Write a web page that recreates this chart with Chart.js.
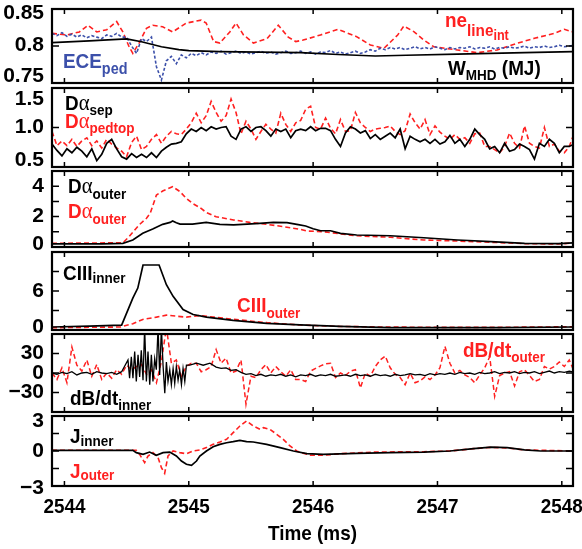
<!DOCTYPE html>
<html>
<head>
<meta charset="utf-8">
<script src="https://cdn.jsdelivr.net/npm/chart.js@4.4.0/dist/chart.umd.min.js"></script>
<style>
    html, body { margin: 0; padding: 0; background: #fff; }
    #wrap { position: relative; width: 582px; height: 549px; overflow: hidden; }
    #wrap canvas { position: absolute; left: 0; }
</style>
</head>
<body>
<div id="wrap"></div>
<script>
// ---- time axis ----
const xTicks = [2544, 2545, 2546, 2547, 2548];
const xTickLabels = ['2544', '2545', '2546', '2547', '2548'];
// shared sample times for the noisy traces (every 0.04 ms)
const tGrid = Array.from({ length: 106 }, (_, i) => 2543.9 + i * 0.04);

// ---- panel 1: W_MHD, ECE_ped, ne_line_int ----
const wmhdTimes = [2543.9, 2544.2, 2544.5, 2544.62, 2544.78, 2544.92, 2545.0, 2545.25, 2545.9, 2546.2, 2546.5, 2546.75, 2547.16, 2547.7, 2548.1];
const wmhdVals = [0.8045, 0.807, 0.8095, 0.8058, 0.799, 0.795, 0.7937, 0.7923, 0.791, 0.7885, 0.7865, 0.7875, 0.789, 0.791, 0.7923];
const eceVals = [
    0.817, 0.814, 0.818, 0.813, 0.816, 0.812, 0.815, 0.811, 0.814, 0.812,
    0.810, 0.815, 0.813, 0.817, 0.812, 0.812, 0.800, 0.790, 0.810, 0.806,
    0.812, 0.772, 0.754, 0.780, 0.786, 0.776, 0.788, 0.784, 0.790, 0.787,
    0.791, 0.788, 0.792, 0.790, 0.793, 0.789, 0.791, 0.793, 0.790, 0.792,
    0.789, 0.791, 0.793, 0.790, 0.792, 0.789, 0.791, 0.793, 0.790, 0.791,
    0.793, 0.790, 0.792, 0.789, 0.792, 0.791, 0.794, 0.790, 0.792, 0.789,
    0.791, 0.793, 0.790, 0.792, 0.795, 0.793, 0.797, 0.795, 0.798, 0.796,
    0.798, 0.795, 0.797, 0.799, 0.796, 0.798, 0.796, 0.799, 0.797, 0.795,
    0.798, 0.796, 0.798, 0.797, 0.799, 0.796, 0.798, 0.797, 0.799, 0.796,
    0.798, 0.797, 0.799, 0.797, 0.798, 0.800, 0.797, 0.799, 0.798, 0.800,
    0.798, 0.799, 0.801, 0.799, 0.800, 0.801
];
const neTimes = [2543.9, 2544.02, 2544.12, 2544.19, 2544.26, 2544.34, 2544.42, 2544.47, 2544.52, 2544.55,
    2544.6, 2544.66, 2544.71, 2544.79, 2544.87, 2544.98, 2545.1, 2545.14, 2545.2, 2545.25,
    2545.33, 2545.38, 2545.44, 2545.52, 2545.63, 2545.72, 2545.8, 2545.86, 2545.92, 2546.06,
    2546.2, 2546.35, 2546.46, 2546.57, 2546.68, 2546.73, 2546.81, 2546.89, 2546.97, 2547.16,
    2547.32, 2547.48, 2547.64, 2547.78, 2547.94, 2548.02, 2548.1];
const neVals = [0.817, 0.815, 0.819, 0.828, 0.819, 0.822, 0.833, 0.819, 0.799, 0.790,
    0.804, 0.824, 0.828, 0.826, 0.819, 0.831, 0.835, 0.831, 0.806, 0.804,
    0.819, 0.831, 0.815, 0.804, 0.810, 0.828, 0.812, 0.806, 0.808, 0.815,
    0.8225, 0.8126, 0.8014, 0.7969, 0.8149, 0.827, 0.8194, 0.8081, 0.799, 0.7946,
    0.791, 0.7946, 0.8036, 0.8104, 0.8171, 0.8225, 0.8185];

// ---- panel 2: D-alpha sep / pedtop ----
const daSepVals = [
    0.79, 0.71, 0.64, 0.73, 0.68, 0.75, 0.70, 0.63, 0.73, 0.58,
    0.66, 0.80, 0.85, 0.73, 0.63, 0.60, 0.67, 0.62, 0.66, 0.62,
    0.68, 0.62, 0.70, 0.75, 0.79, 0.80, 0.82, 0.92, 0.98, 0.95,
    1.00, 0.96, 1.01, 0.98, 1.00, 1.01, 0.89, 0.85, 0.98, 1.01,
    0.95, 1.00, 1.01, 0.96, 0.89, 0.98, 0.95, 0.98, 0.87, 0.96,
    0.98, 0.96, 1.01, 0.96, 0.99, 0.99, 0.96, 0.85, 0.76, 0.93,
    1.01, 0.98, 0.93, 0.96, 0.86, 0.91, 0.85, 0.89, 0.93, 0.87,
    0.98, 0.73, 0.89, 0.85, 0.82, 0.85, 0.80, 0.85, 0.79, 0.82,
    0.90, 0.80, 0.85, 0.76, 0.85, 0.98, 0.91, 0.85, 0.73, 0.76,
    0.68, 0.80, 0.70, 0.72, 0.79, 0.76, 0.72, 0.60, 0.80, 0.76,
    0.85, 0.80, 0.68, 0.76, 0.76, 0.79
];
const daPedVals = [
    0.95, 0.77, 0.83, 0.77, 0.85, 0.76, 0.83, 0.87, 0.77, 0.83,
    0.74, 0.85, 0.79, 0.74, 0.70, 0.63, 0.81, 0.89, 0.72, 0.76,
    0.85, 0.91, 0.80, 0.89, 0.95, 0.92, 0.91, 0.98, 1.06, 1.18,
    1.06, 1.15, 1.33, 1.19, 1.08, 1.15, 1.36, 1.19, 0.92, 1.08,
    0.98, 0.85, 0.95, 1.04, 0.98, 0.93, 1.18, 1.04, 0.95, 1.06,
    1.09, 1.23, 1.27, 1.00, 0.98, 1.12, 0.99, 0.92, 1.10, 0.95,
    0.96, 1.19, 1.06, 1.00, 0.95, 0.98, 0.99, 1.00, 1.02, 0.95,
    0.91, 0.96, 1.17, 1.06, 0.98, 1.10, 0.91, 1.02, 0.94, 0.89,
    0.85, 0.91, 0.85, 0.87, 0.80, 0.92, 0.93, 0.76, 0.76, 0.72,
    0.68, 0.76, 0.93, 0.80, 0.74, 1.02, 0.80, 0.76, 0.74, 1.00,
    0.76, 0.79, 0.70, 0.68, 0.76, 0.93
];

// ---- panel 3: D-alpha outer ----
const daOutTimes = [2543.9, 2544.1, 2544.3, 2544.47, 2544.55, 2544.63, 2544.71, 2544.79, 2544.85, 2544.87,
    2544.9, 2544.93, 2545.03, 2545.14, 2545.25, 2545.36, 2545.47, 2545.57, 2545.68, 2545.79,
    2545.88, 2545.94, 2546.0, 2546.06, 2546.14, 2546.22, 2546.35, 2546.62, 2546.89, 2547.16,
    2547.43, 2547.7, 2547.97, 2548.1];
const daOutBlack = [0.2, 0.2, 0.21, 0.24, 0.46, 0.9, 1.18, 1.49, 1.62, 1.71,
    1.6, 1.51, 1.51, 1.62, 1.49, 1.45, 1.51, 1.56, 1.62, 1.6,
    1.47, 1.38, 1.2, 1.07, 1.07, 0.9, 0.79, 0.74, 0.61, 0.46,
    0.35, 0.24, 0.22, 0.28];
const daOutRedTimes = [2543.9, 2544.47, 2544.52, 2544.6, 2544.66, 2544.69, 2544.74, 2544.79, 2544.85, 2544.87,
    2544.93, 2544.98, 2545.03, 2545.09, 2545.14, 2545.22, 2545.36, 2545.49, 2545.63, 2545.76,
    2545.9, 2545.95, 2546.08, 2546.22, 2546.35, 2546.62, 2546.89, 2547.16, 2547.43, 2547.7,
    2547.97, 2548.1];
const daOutRed = [0.24, 0.28, 0.68, 1.45, 1.89, 2.22, 3.42, 3.68, 3.9, 3.97,
    3.64, 3.2, 2.87, 2.59, 2.28, 1.99, 1.78, 1.62, 1.49, 1.34,
    1.16, 1.05, 1.01, 0.86, 0.74, 0.64, 0.46, 0.39, 0.31, 0.22,
    0.2, 0.26];

// ---- panel 4: CIII inner / outer ----
const c3InTimes = [2543.9, 2544.2, 2544.46, 2544.55, 2544.59, 2544.632, 2544.761, 2544.82, 2544.874, 2544.954,
    2545.035, 2545.142, 2545.357, 2545.626, 2545.895, 2546.22, 2546.62, 2547.0, 2547.5, 2548.1];
const c3InVals = [0.46, 0.6, 0.76, 4.9, 6.45, 10.0, 10.0, 6.96, 5.18, 3.15,
    2.39, 1.98, 1.48, 1.02, 0.8, 0.55, 0.36, 0.36, 0.36, 0.46];
const c3OutTimes = [2543.9, 2544.45, 2544.55, 2544.63, 2544.74, 2544.82, 2544.9, 2544.98, 2545.09, 2545.2,
    2545.36, 2545.63, 2545.9, 2546.22, 2546.6, 2547.0, 2547.5, 2548.1];
const c3OutVals = [0.36, 0.46, 0.97, 1.63, 1.98, 2.28, 2.13, 1.98, 2.23, 1.98,
    1.64, 1.13, 0.76, 0.55, 0.45, 0.41, 0.41, 0.5];

// ---- panel 5: dB/dt inner / outer ----
const dbBurstTimes = [2544.511, 2544.524, 2544.538, 2544.551, 2544.565, 2544.578, 2544.592, 2544.605, 2544.618, 2544.632,
    2544.645, 2544.659, 2544.672, 2544.686, 2544.699, 2544.712, 2544.726, 2544.739, 2544.753, 2544.766,
    2544.780, 2544.793, 2544.807, 2544.820, 2544.833, 2544.847, 2544.860, 2544.874, 2544.887, 2544.900,
    2544.914, 2544.927, 2544.941, 2544.954, 2544.968, 2544.981, 2545.008, 2545.062, 2545.116, 2545.170];
const dbInnerPre = [0, -2, 1, -1, 2, -3, 0, 1, -2, 2, 0, -1, 1, -2, 2];
const dbInnerBurst = [20, -8, 25, -8, 33, -13, 28, -6, 35, -11,
    70, -13, 33, -18, 28, -13, 22, 5, 70, -3,
    70, 12, -31, 17, -13, 5, -18, 7, -16, 10,
    -11, 5, -18, 7, -13, 12, 12, 15, 12, 15];
const dbInnerTail = [
    9, 7, 8, 4, 5, 1, -2, -1, -4, -2,
    -5, -3, -4, -2, -5, -3, -6, -3, -4, -2,
    -5, -3, -4, -2, -5, -4, -3, -5, -2, -4,
    -3, -5, -2, -4, -3, -5, -2, -4, -3, -1,
    -3, -2, -4, -1, -3, -1, -2, 0, -2, 1,
    -1, 0, -2, 1, -1, 0, 2, -1, 1, 0,
    2, -1, 1, 0, 2, -1, 1, 3, 0, 2,
    1, 3, 1
];
const dbOuterVals = [
    0, -10, 8, -15, 40, 12, 3, 20, -5, 13,
    -10, 0, -8, 5, -2, 12, 5, 10, 13, -2,
    5, -15, 18, 70, 15, 20, -5, 10, 15, 15,
    2, 5, 10, 36, 15, 23, 0, 3, 20, -48,
    -5, -7, 5, 13, 0, 10, 2, -5, 5, -10,
    -10, -13, 3, 7, 11, 14, 15, -7, 0, -4,
    3, 5, -23, 0, -5, 10, 20, 26, 8, -2,
    -7, -18, 0, -15, -12, -6, -10, -3, 8, 41,
    15, 0, 4, -3, -7, -15, -3, 8, 25, -36,
    -4, 0, 2, -20, 2, 5, -4, -13, -10, 10,
    6, 10, 17, 10, 20, 2
];

// ---- panel 6: J inner / outer ----
const jInTimes = [2543.9, 2544.55, 2544.578, 2544.632, 2544.685, 2544.739, 2544.793, 2544.847, 2544.9, 2544.941,
    2544.981, 2545.022, 2545.062, 2545.089, 2545.142, 2545.196, 2545.25, 2545.304, 2545.357, 2545.411,
    2545.465, 2545.519, 2545.626, 2545.734, 2545.841, 2545.95, 2546.08, 2546.35, 2546.62, 2546.89,
    2547.1, 2547.29, 2547.43, 2547.56, 2547.7, 2547.83, 2548.1];
const jInVals = [0.06, 0.06, -0.14, -0.28, -0.09, -0.37, -0.14, -0.09, -0.43, -0.86,
    -1.14, -1.23, -0.86, -0.43, 0.0, 0.37, 0.57, 0.71, 0.8, 0.91,
    0.8, 0.77, 0.57, 0.29, 0.0, -0.22, -0.29, -0.2, -0.14, -0.09,
    0.0, 0.2, 0.34, 0.29, 0.09, 0.0, 0.0];
const jOutTimes = [2543.9, 2544.578, 2544.605, 2544.645, 2544.672, 2544.712, 2544.753, 2544.78, 2544.806, 2544.833,
    2544.874, 2544.927, 2544.981, 2545.035, 2545.089, 2545.142, 2545.196, 2545.25, 2545.304, 2545.357,
    2545.411, 2545.465, 2545.519, 2545.572, 2545.6, 2545.653, 2545.707, 2545.76, 2545.814, 2545.868,
    2545.9, 2545.98, 2546.08, 2546.22, 2546.49, 2546.89, 2547.1, 2547.29, 2547.43, 2547.56,
    2547.7, 2548.1];
const jOutVals = [0.06, 0.06, -0.29, -1.0, -0.43, -0.14, -0.57, -1.43, -1.91, -0.43,
    0.0, -0.14, -0.23, 0.0, 0.09, 0.29, 0.57, 0.77, 1.0, 1.57,
    2.14, 2.57, 2.14, 1.86, 2.0, 1.86, 1.43, 1.0, 0.43, 0.0,
    -0.14, -0.37, -0.37, -0.23, -0.09, -0.06, 0.0, 0.2, 0.31, 0.26,
    0.09, 0.0];

// ---- styling ----
const FONT = "'Liberation Sans', Arial, Helvetica, sans-serif";
const GREEK = "'Liberation Serif', 'DejaVu Serif', serif";
const SQUEEZE = 0.9;
const RED = '#ff2020';
const BLUE = '#3c50aa';
const BLACK = '#000000';
const PLOT_LEFT = 52;
const PLOT_RIGHT = 573;

function series(times, vals, color, dash, width) {
    return {
        data: times.map((t, i) => ({ x: t, y: vals[i] })),
        borderColor: color,
        borderWidth: width || 1.7,
        borderDash: dash || [],
        pointRadius: 0,
        tension: 0,
        fill: false
    };
}

function squeezedText(ctx, text, x, y, align) {
    const w = ctx.measureText(text).width * SQUEEZE;
    let x0 = x;
    if (align === 'center') x0 = x - w / 2;
    if (align === 'right') x0 = x - w;
    ctx.save();
    ctx.translate(x0, y);
    ctx.scale(SQUEEZE, 1);
    ctx.textAlign = 'left';
    ctx.fillText(text, 0, 0);
    ctx.restore();
    return w;
}

function drawRich(ctx, x, y, parts, color) {
    ctx.fillStyle = color;
    ctx.textBaseline = 'alphabetic';
    parts.forEach(([text, size, dy, greek]) => {
        ctx.font = greek ? `${size}px ${GREEK}` : `bold ${size}px ${FONT}`;
        x += squeezedText(ctx, text, x, y + dy, 'left');
    });
}

// frame, inward ticks, tick labels and in-panel captions
const panelFrame = {
    id: 'panelFrame',
    afterDatasetsDraw(chart, args, opts) {
        const { ctx, chartArea: a } = chart;
        const xs = chart.scales.x, ys = chart.scales.y;
        ctx.save();
        ctx.strokeStyle = BLACK;
        ctx.lineWidth = 1.5;
        ctx.beginPath();
        xTicks.forEach(v => {
            const px = xs.getPixelForValue(v);
            ctx.moveTo(px, a.top); ctx.lineTo(px, a.top + 5);
            ctx.moveTo(px, a.bottom); ctx.lineTo(px, a.bottom - 5);
        });
        opts.yTicks.forEach(v => {
            const py = ys.getPixelForValue(v);
            ctx.moveTo(a.left, py); ctx.lineTo(a.left + 7, py);
            ctx.moveTo(a.right, py); ctx.lineTo(a.right - 7, py);
        });
        ctx.stroke();
        ctx.lineWidth = 2.2;
        ctx.strokeRect(a.left, a.top, a.right - a.left, a.bottom - a.top);

        ctx.fillStyle = BLACK;
        ctx.font = `bold 21px ${FONT}`;
        ctx.textAlign = 'right';
        ctx.textBaseline = 'middle';
        opts.yLabels.forEach(([v, text, nudge]) => {
            ctx.fillText(text, a.left - 8, ys.getPixelForValue(v) + nudge);
        });

        opts.notes.forEach(n => drawRich(ctx, a.left + n.dx, a.top + n.dy, n.parts, n.color));

        if (opts.xAxis) {
            ctx.fillStyle = BLACK;
            ctx.font = `bold 21px ${FONT}`;
            ctx.textBaseline = 'alphabetic';
            xTicks.forEach((v, i) => squeezedText(ctx, xTickLabels[i], xs.getPixelForValue(v), a.bottom + 27, 'center'));
            squeezedText(ctx, 'Time (ms)', (a.left + a.right) / 2, a.bottom + 54, 'center');
        }
        ctx.restore();
    }
};

const dBinnerTimes = tGrid.slice(0, 15).concat(dbBurstTimes, tGrid.slice(33));
const dBinnerVals = dbInnerPre.concat(dbInnerBurst, dbInnerTail);

const panels = [
    {
        top: 9, bottom: 83, yMin: 0.75, yMax: 0.85,
        yTicks: [0.75, 0.8, 0.85],
        yLabels: [[0.85, '0.85', 4], [0.8, '0.8', -1], [0.75, '0.75', -7]],
        datasets: [
            series(wmhdTimes, wmhdVals, BLACK),
            series(tGrid, eceVals, BLUE, [3, 2], 1.6),
            series(neTimes, neVals, RED, [5, 3], 1.6)
        ],
        notes: [
            { dx: 11, dy: 59, color: BLUE, parts: [['ECE', 21, 0], ['ped', 16, 6]] },
            { dx: 393, dy: 18, color: RED, parts: [['ne', 21, 0], ['line', 17, 9], ['int', 14, 13]] },
            { dx: 396, dy: 66, color: BLACK, parts: [['W', 21, 0], ['MHD', 15, 5], [' (MJ)', 21, 0]] }
        ]
    },
    {
        top: 88, bottom: 167, yMin: 0.5, yMax: 1.5,
        yTicks: [0.5, 1.0, 1.5],
        yLabels: [[1.5, '1.5', 11], [1.0, '1.0', 0], [0.5, '0.5', -7]],
        datasets: [
            series(tGrid, daSepVals, BLACK),
            series(tGrid, daPedVals, RED, [5, 3], 1.6)
        ],
        notes: [
            { dx: 13, dy: 22, color: BLACK, parts: [['D', 21, 0], ['\u03b1', 23, 0, true], ['sep', 15, 5]] },
            { dx: 13, dy: 40, color: RED, parts: [['D', 21, 0], ['\u03b1', 23, 0, true], ['pedtop', 15, 5]] }
        ]
    },
    {
        top: 171, bottom: 247, yMin: 0, yMax: 5,
        yTicks: [0, 1, 2, 3, 4],
        yLabels: [[4, '4', 0], [2, '2', 0], [0, '0', -3]],
        datasets: [
            series(daOutTimes, daOutBlack, BLACK),
            series(daOutRedTimes, daOutRed, RED, [5, 3], 1.6)
        ],
        notes: [
            { dx: 16, dy: 22, color: BLACK, parts: [['D', 21, 0], ['\u03b1', 23, 0, true], ['outer', 15, 6]] },
            { dx: 16, dy: 47, color: RED, parts: [['D', 21, 0], ['\u03b1', 23, 0, true], ['outer', 15, 6]] }
        ]
    },
    {
        top: 252, bottom: 330, yMin: 0, yMax: 12,
        yTicks: [0, 3, 6, 9],
        yLabels: [[6, '6', 0], [0, '0', -3]],
        datasets: [
            series(c3InTimes, c3InVals, BLACK),
            series(c3OutTimes, c3OutVals, RED, [5, 3], 1.6)
        ],
        notes: [
            { dx: 11, dy: 28, color: BLACK, parts: [['CIII', 21, 0], ['inner', 15, 3]] },
            { dx: 185, dy: 60, color: RED, parts: [['CIII', 21, 0], ['outer', 15, 6]] }
        ]
    },
    {
        top: 334, bottom: 412, yMin: -60, yMax: 60,
        yTicks: [-30, 0, 30],
        yLabels: [[30, '30', 0], [0, '0', 0], [-30, '\u221230', 0]],
        datasets: [
            series(dBinnerTimes, dBinnerVals, BLACK, [], 1.3),
            series(tGrid, dbOuterVals, RED, [5, 3], 1.5)
        ],
        notes: [
            { dx: 18, dy: 71, color: BLACK, parts: [['dB/dt', 21, 0], ['inner', 15, 5]] },
            { dx: 411, dy: 23, color: RED, parts: [['dB/dt', 21, 0], ['outer', 15, 5]] }
        ]
    },
    {
        top: 416, bottom: 486, yMin: -3, yMax: 3,
        yTicks: [-1.5, 0, 1.5],
        yLabels: [[3, '3', 5], [0, '0', 0], [-3, '\u22123', 2]],
        datasets: [
            series(jInTimes, jInVals, BLACK),
            series(jOutTimes, jOutVals, RED, [5, 3], 1.6)
        ],
        notes: [
            { dx: 18, dy: 27, color: BLACK, parts: [['J', 21, 0], ['inner', 15, 3]] },
            { dx: 18, dy: 62, color: RED, parts: [['J', 21, 0], ['outer', 15, 2]] }
        ],
        xAxis: true
    }
];

const wrap = document.getElementById('wrap');
panels.forEach((p, idx) => {
    const pad = 5;
    const canvasTop = p.top - pad;
    const isLast = idx === panels.length - 1;
    const height = isLast ? 549 - canvasTop : (p.bottom - p.top) + 2 * pad;
    const canvas = document.createElement('canvas');
    canvas.width = 582;
    canvas.height = height;
    canvas.style.top = canvasTop + 'px';
    canvas.style.width = '582px';
    canvas.style.height = height + 'px';
    wrap.appendChild(canvas);

    new Chart(canvas.getContext('2d'), {
        type: 'line',
        data: { datasets: p.datasets },
        options: {
            responsive: false,
            animation: false,
            devicePixelRatio: 1,
            events: [],
            layout: {
                padding: {
                    left: PLOT_LEFT,
                    right: 582 - PLOT_RIGHT,
                    top: pad,
                    bottom: height - pad - (p.bottom - p.top)
                }
            },
            scales: {
                x: { type: 'linear', min: 2543.9, max: 2548.09, display: false },
                y: { type: 'linear', min: p.yMin, max: p.yMax, display: false }
            },
            plugins: {
                legend: { display: false },
                tooltip: { enabled: false },
                panelFrame: { yTicks: p.yTicks, yLabels: p.yLabels, notes: p.notes, xAxis: !!p.xAxis }
            }
        },
        plugins: [panelFrame]
    });
});
</script>
</body>
</html>
